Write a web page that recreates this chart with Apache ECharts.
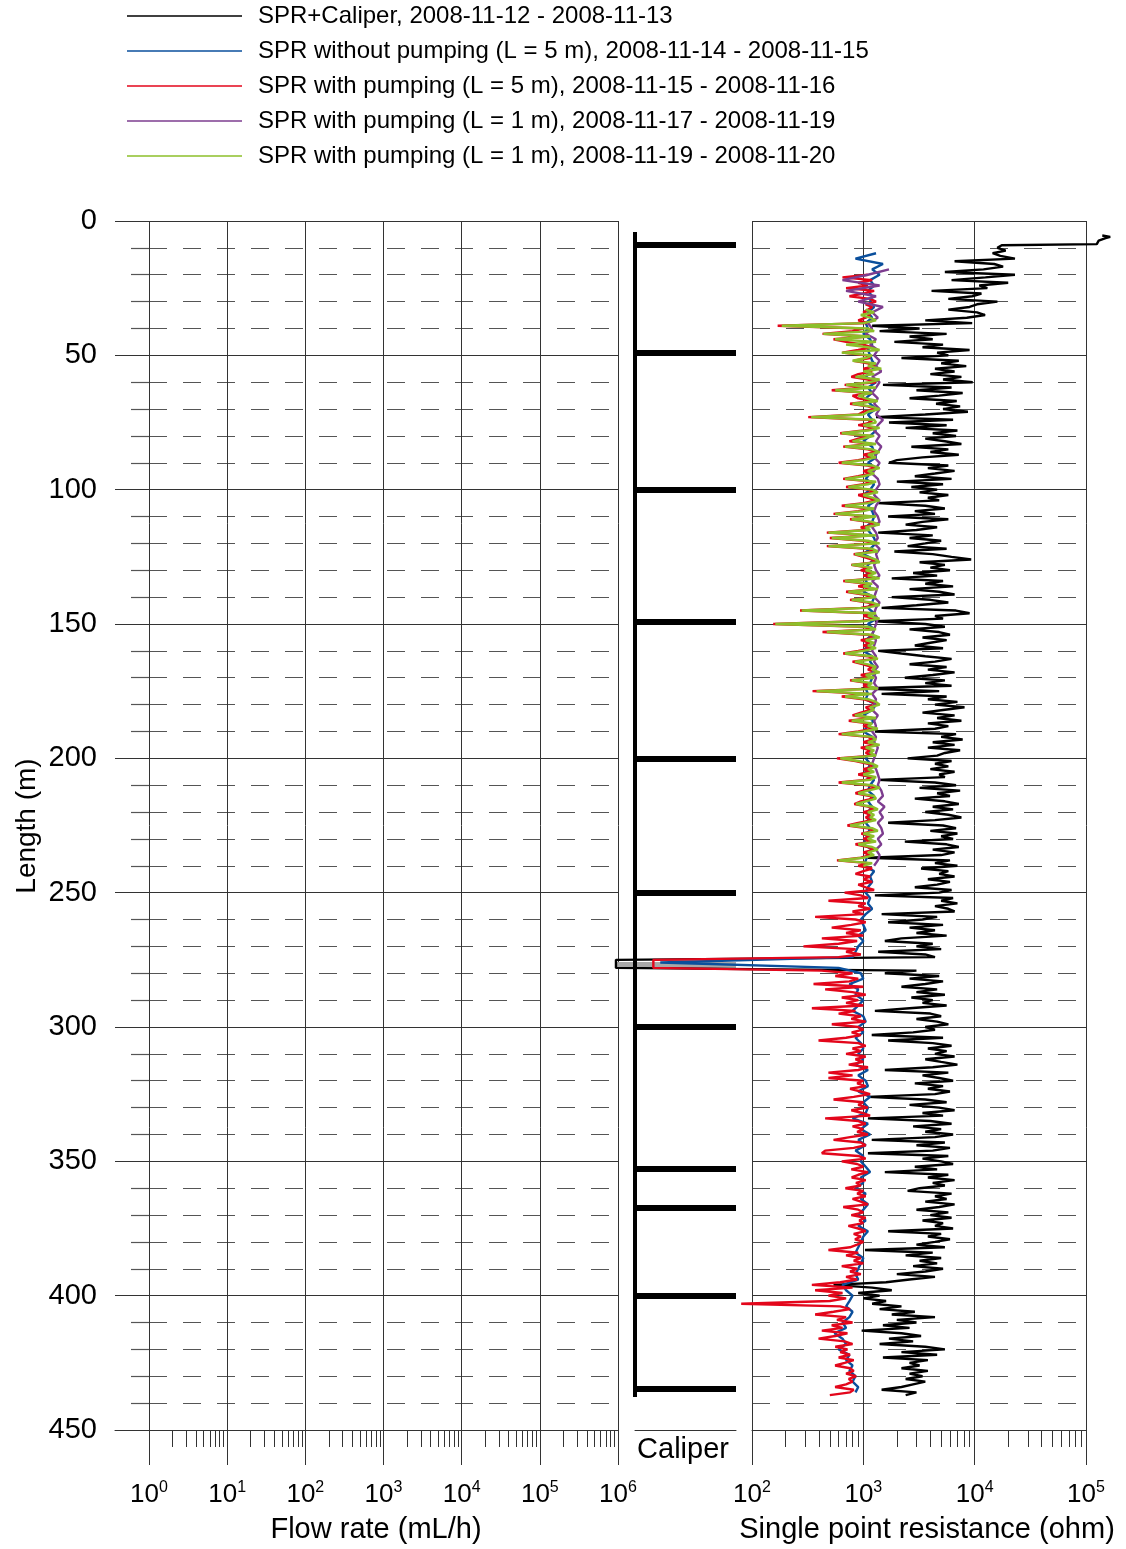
<!DOCTYPE html>
<html><head><meta charset="utf-8">
<script src="https://cdn.jsdelivr.net/npm/echarts@6/dist/echarts.min.js"></script>
<style>html,body{margin:0;padding:0;background:#fff}#c{width:1126px;height:1549px}</style>
</head><body><div id="c"></div>
<script>
const FONT = "'Liberation Sans', Arial, sans-serif";

// ---------- legend / series names ----------
const SERIES_NAMES = [
  'SPR+Caliper, 2008-11-12 - 2008-11-13',
  'SPR without pumping (L = 5 m), 2008-11-14 - 2008-11-15',
  'SPR with pumping (L = 5 m), 2008-11-15 - 2008-11-16',
  'SPR with pumping (L = 1 m), 2008-11-17 - 2008-11-19',
  'SPR with pumping (L = 1 m), 2008-11-19 - 2008-11-20'
];
const SERIES_COLORS = ['#000000', '#0a4f9c', '#e3061b', '#7d3c8f', '#8dbf2a'];

// ---------- axes (x axes are decades, log10 of the value) ----------
const DEPTH_MIN = 0, DEPTH_MAX = 450, DEPTH_STEP_MAJOR = 50;
const FLOW_EXP_MIN = 0, FLOW_EXP_MAX = 6;     // 10^0 .. 10^6 mL/h
const SPR_EXP_MIN = 2, SPR_EXP_MAX = 5;       // 10^2 .. 10^5 ohm
const SPR_DATA_EXP_MIN = 0.5, SPR_DATA_EXP_MAX = 5.3; // drawing range (values run past the frame)
const MINOR_MULTIPLIERS = [2, 3, 4, 5, 6, 7, 8, 9];

// ---------- SPR profiles (ohm), sampled down the borehole ----------
// black: SPR+Caliper, head points then 1 m samples from 9 m
const BLACK_HEAD_DEPTH = [5.4, 5.9, 6.4, 7.3, 8.6];
const BLACK_HEAD_VALUE = [140000, 165000, 150000, 130000, 125000];
const BLACK_START = 9, BLACK_STEP = 1;
const BLACK = [
17500,16000,19000,14500,17000,23000,6600,15000,18000,12000,
5400,23000,12500,6200,20000,11000,13000,4100,11500,9500,
5800,16000,10500,9000,5800,10500,12400,8500,3600,9500,
1200,3200,1400,5600,2600,4200,1900,5200,3400,9000,
4600,5800,2200,7200,5000,8400,4400,6600,4000,7600,
5200,9600,1500,6200,3000,7800,4800,2600,6900,4500,
7400,5200,8700,3600,1300,6400,1700,5600,2400,7000,
4200,6800,3600,5400,7600,2700,5800,4000,7200,3400,
2000,1700,5800,3800,6600,4400,2900,6200,2000,5200,
2700,4600,3200,5800,3800,4800,1360,3600,5400,2900,
4400,1670,5800,3400,2400,4600,3000,1360,4200,2600,
5000,3600,2500,5600,1900,4200,6200,9300,3200,5400,
4000,6000,2800,4600,1800,5200,3600,6400,2600,4800,
6600,1800,4000,5800,3000,1460,6800,9000,4400,5200,
1270,3600,5400,2600,4800,6000,3400,5600,4000,2900,
5200,1360,2200,3600,6200,4400,2600,5600,3800,6600,
4200,2360,5400,3600,6200,960,4800,1460,5600,3800,
7000,4400,8100,5200,3400,6600,4600,7600,3800,5800,
4400,1270,6800,5000,7800,4200,6600,3800,7400,5400,
4600,2500,6200,4400,5800,4000,6600,4800,5400,1360,
4400,6800,3200,7400,4600,6000,2900,5400,7200,4200,
6400,3600,5800,7600,4400,1670,5200,6800,4000,7000,
5000,6400,2360,5600,7200,4200,6600,5000,1100,6000,
4400,7000,3300,5800,4800,6600,3800,6000,4600,2900,
6200,4800,1270,6400,5000,7000,4400,5800,6600,1460,
4600,3400,1670,5200,2600,4400,3000,5600,2200,1560,
4200,3000,5000,1360,3600,4400,6,6,6,6,
3000,1560,4800,2600,5200,3600,2200,4600,3000,5400,
2700,4200,3400,5600,2600,1270,4000,5000,3000,4600,
5800,3600,4400,2800,1190,5200,1670,4200,6200,3800,
5600,4400,6600,3600,5000,7000,4200,1560,5800,3400,
4800,6400,2900,5200,3800,6000,4400,1100,3600,5600,
2600,4800,6600,3400,5200,1100,4000,6200,2800,5000,
3600,6400,4400,1190,5400,3000,6000,4200,1100,5800,
3400,5000,6400,2900,4600,1560,5800,3800,6600,4200,
5400,3200,2500,6200,4400,5600,3600,6600,4800,3000,
5800,4000,6200,3400,5200,4400,6400,1670,5000,3800,
6000,4400,3000,5400,1035,4200,2400,5000,3200,4600,
2800,5200,3600,2000,4400,2600,1600,540,1200,1800,
900,1400,1000,1600,1200,2200,1400,2900,1800,4400,
2000,3000,1500,2600,966,2200,3300,1700,2800,1400,
3600,5400,2200,4600,1500,3800,2600,3200,2200,3800,
2600,3400,2400,3600,2800,2200,1460,3000,2400
];
// blue: without pumping, 2 m samples from 12 m
const BLUE_START = 12, BLUE_STEP = 2;
const BLUE = [
1300,850,1500,1200,1400,1150,1250,1100,1200,1150,
1250,1100,1200,1050,1100,1000,1150,1200,1100,1150,
1200,1300,1150,1050,1300,1100,1200,1050,1150,1300,
1100,1200,1050,1300,1150,1000,1200,1250,1300,1100,
1300,1150,1050,1250,1150,1000,1300,1100,1200,1250,
1200,1050,1150,1250,1300,1150,1000,1250,1100,1050,
1100,1050,1150,1000,1250,1200,1100,1250,1300,1100,
1250,1200,1050,1100,1000,1200,1150,1250,1300,1200,
1150,1050,1100,1050,1300,1200,1000,1250,1100,1000,
1200,1250,1100,1150,1050,1150,1100,1000,1250,1150,
1100,1250,1100,1200,1100,1150,1050,1150,1100,1050,
1000,1200,1100,1050,1000,1250,1150,1200,1100,1050,
1150,1100,1200,1050,950,1000,1050,900,1000,900,
850,800,15,600,950,1000,750,900,850,1000,
900,800,1000,1050,900,1000,850,950,1000,900,
1000,850,1100,900,1050,1100,900,1150,1000,1100,
1050,800,1100,950,1150,900,1050,850,1000,950,
1050,1150,950,1000,850,1050,950,1100,1000,900,
1050,900,1100,1000,950,900,850,1000,950,900,
850,900,650,700,800,750,700,800,750,650,
700,550,650,700,600,750,700,800,750,850,
800,900,850
];
// red: with pumping L = 5 m, 1 m samples from 20 m
const RED_START = 20, RED_STEP = 1;
const RED = [
1100,650,
1200,900,1100,700,1250,1000,750,1150,1300,1050,
1200,1100,1000,1150,1050,900,1100,170,1000,800,
430,1100,540,700,1000,1200,900,650,1050,1150,
820,1100,1300,1000,1200,900,780,1100,1300,680,
1000,520,1200,800,900,1250,760,1100,1300,1000,
900,320,1100,1200,900,1300,1000,620,1150,900,
750,1200,660,1100,1300,1000,1200,900,600,1100,
1300,1000,1150,900,660,1200,1000,700,1100,1250,
900,1100,1300,1000,640,1150,900,540,1200,760,
1100,1300,950,1050,470,1200,500,1000,1300,470,
1100,1250,820,1000,1200,1300,780,1100,950,1200,
1000,1300,660,1100,900,1250,700,1000,1200,760,
1100,1300,950,270,1200,1000,1300,900,155,1000,
1200,430,1100,1300,950,1150,1000,1200,900,660,
1100,1250,800,1000,1200,1100,1300,950,1150,760,
1100,1000,1250,350,1100,640,1000,1200,1300,1050,
1150,950,800,1200,740,1100,1000,1250,900,600,
1100,1200,1000,1300,950,1150,1050,1200,580,850,
1100,1250,1000,1150,900,1200,1050,600,1100,1300,
1000,850,1150,1200,950,830,1100,1250,1000,1150,
1050,1200,900,720,1100,1250,960,1150,1000,1200,
850,1100,1250,1000,1150,950,580,1100,900,1200,
1000,850,1150,1000,1200,900,1050,1250,680,950,
1100,486,1050,900,1150,800,1000,369,850,1050,
780,520,950,700,1000,424,880,600,290,850,
700,950,600,13,13,13,13,420,800,560,
900,750,357,1000,454,800,1050,640,900,700,
1000,345,850,600,950,780,1050,521,900,1000,
786,950,700,396,900,1050,800,950,700,1050,
850,1000,740,1100,900,486,800,486,1000,880,
1050,760,950,1150,820,540,1000,900,1100,780,
980,1150,454,900,1050,800,1000,880,1100,760,
540,950,1050,820,454,424,900,1050,640,880,
1000,780,1100,900,786,1050,860,950,690,1000,
880,1050,800,950,1100,660,900,1000,780,1050,
920,1000,734,900,1050,820,950,842,1000,880,
760,486,900,700,950,820,1000,640,880,760,
950,700,880,620,345,800,369,650,486,700,
500,80,620,760,540,369,700,580,800,520,
650,424,720,560,396,680,800,560,720,620,
760,600,820,680,558,760,820,700,860,740,
800,700,558,820,760,500
];
// purple: with pumping L = 1 m (first run), 2 m samples from 18 m
const PURPLE_START = 18, PURPLE_STEP = 2;
const PURPLE = [
1700,1100,650,1400,700,1300,900,1500,1200,1350,
1100,1200,1050,1300,1150,1350,1250,1400,1300,1450,
1200,1400,1300,1200,1350,1250,1400,1300,1500,1350,
1250,1400,1300,1450,1350,1250,1400,1300,1200,1350,
1400,1300,1250,1400,1300,1250,1350,1400,1200,1300,
1350,1250,1400,1300,1350,1250,1300,1400,1200,1350,
1300,1250,1400,1300,1250,1350,1300,1250,1200,1300,
1250,1200,1300,1250,1350,1200,1300,1250,1350,1200,
1300,1250,1200,1350,1250,1300,1200,1300,1250,1350,
1300,1250,1200,1300,1350,1400,1350,1450,1500,1350,
1550,1400,1500,1350,1450,1500,1350,1450,1300,1400,
1350,1250
];
// green: with pumping L = 1 m (second run), 1 m samples from 33 m
const GREEN_START = 33, GREEN_STEP = 1;
const GREEN = [
1050,1250,950,1150,1300,1000,185,1100,1250,437,
1150,557,1300,700,1100,1400,640,1200,1050,800,
1300,1100,1450,1000,1250,850,1400,1150,700,1300,
560,1200,900,1050,1350,800,1150,1400,1100,1000,
340,1250,1300,1000,1400,1100,640,1250,1000,800,
1300,685,1200,1400,1100,1300,1000,640,1200,1400,
1100,1250,1000,685,1300,1100,734,1200,1350,1000,
1200,1400,1100,685,1250,1000,560,1300,786,1200,
1400,1050,1150,486,1300,521,1100,1400,486,1200,
1350,842,1100,1300,1400,786,1200,1050,1300,1100,
1400,685,1200,1000,1350,734,1100,1300,786,1200,
1400,1050,280,1300,1100,1400,1000,162,1100,1300,
470,1200,1400,1050,1250,1100,1300,1000,685,1200,
1350,842,1100,1300,1200,1400,1050,1250,786,1200,
1100,1350,380,1200,685,1100,1300,1400,1150,1250,
1050,842,1300,786,1200,1100,1350,1000,640,1200,
1300,1100,1400,1050,1250,1150,1300,620,900,1200,
1350,1100,1250,1000,1300,1150,640,1200,1400,1100,
900,1250,1300,1050,860,1200,1350,1100,1250,1150,
1300,1000,760,1200,1350,1000,1250,1100,1300,900,
1200,1350,1100,1250,1000,597,1200,1000
];

// ---------- caliper ----------
const CALIPER_TOP = 4.1, CALIPER_BOTTOM = 437.7;
const CALIPER_BAR_DEPTHS = [8.7, 49.1, 100, 149.2, 200.2, 250, 299.8, 352.8, 367.3, 400, 434.8];
const CALIPER_ANOMALY_DEPTH = 277;
const CALIPER_ANOMALY_REACH = -0.18;

// ---------- helpers ----------
// log10 transform: the x axes are laid out in decades
function profile(start, step, vals) { return vals.map((v, i) => [Math.log10(v), start + i * step]); }
function minorLogPositions(fromExp, toExp) {
  const out = [];
  for (let e = fromExp; e < toExp; e++) MINOR_MULTIPLIERS.forEach(m => out.push(e + Math.log10(m)));
  return out;
}
const supLabel = {
  formatter: v => '{b|10}{s|' + Math.round(v) + '}',
  rich: {
    b: { fontSize: 26, fontFamily: FONT, color: '#000', lineHeight: 30 },
    s: { fontSize: 16, fontFamily: FONT, color: '#000', lineHeight: 16, verticalAlign: 'top' }
  },
  margin: 50
};
const GRID_COLOR = '#333';
const DASH_COLOR = '#555';
const LINE_W = 2.4;

// panel geometry
const PLOT_TOP = 221, PLOT_H = 1209;
const SPR_LEFT = 752, SPR_W = 334;
const SPR_DECADE_PX = SPR_W / (SPR_EXP_MAX - SPR_EXP_MIN);
const SPR_DATA_LEFT = SPR_LEFT - (SPR_EXP_MIN - SPR_DATA_EXP_MIN) * SPR_DECADE_PX;
const SPR_DATA_W = (SPR_DATA_EXP_MAX - SPR_DATA_EXP_MIN) * SPR_DECADE_PX;

function depthAxis(gridIndex, opts) {
  return Object.assign({
    type: 'value', gridIndex, min: DEPTH_MIN, max: DEPTH_MAX, interval: DEPTH_STEP_MAJOR, inverse: true,
    axisLine: { show: false }, axisTick: { show: false }, axisLabel: { show: false },
    splitLine: { show: true, lineStyle: { color: GRID_COLOR, width: 1 } },
    minorTick: { show: false, splitNumber: 5 },
    minorSplitLine: { show: true, lineStyle: { color: DASH_COLOR, width: 1.2, type: [18, 16], dashOffset: 0 } }
  }, opts || {});
}
const HIDDEN_DEPTH = { show: false, splitLine: { show: false }, minorSplitLine: { show: false } };
function majorDecadeAxis(gridIndex, min, max) {
  return { type: 'value', gridIndex, min, max, interval: 1, position: 'bottom',
    axisLine: { show: true, onZero: false, lineStyle: { color: GRID_COLOR } },
    axisTick: { show: true, inside: false, length: 35, lineStyle: { color: GRID_COLOR } },
    axisLabel: supLabel, splitLine: { show: true, lineStyle: { color: GRID_COLOR } } };
}
function minorDecadeAxis(gridIndex, min, max) {
  return { type: 'value', gridIndex, min, max, position: 'bottom',
    axisLine: { show: false, onZero: false }, axisLabel: { show: false }, splitLine: { show: false },
    axisTick: { show: true, inside: false, length: 17, customValues: minorLogPositions(min, max),
      lineStyle: { color: GRID_COLOR } } };
}
function gridBox(left, width) {
  return { left, top: PLOT_TOP, width, height: PLOT_H, containLabel: false, outerBoundsMode: 'none' };
}

const chart = echarts.init(document.getElementById('c'), null, { renderer: 'canvas' });

const sprData = [
  BLACK_HEAD_DEPTH.map((d, i) => [Math.log10(BLACK_HEAD_VALUE[i]), d]).concat(profile(BLACK_START, BLACK_STEP, BLACK)),
  profile(BLUE_START, BLUE_STEP, BLUE),
  profile(RED_START, RED_STEP, RED),
  profile(PURPLE_START, PURPLE_STEP, PURPLE),
  profile(GREEN_START, GREEN_STEP, GREEN)
];

const series = SERIES_NAMES.map((name, i) => ({
  name, type: 'line', xAxisIndex: 6, yAxisIndex: 6, data: sprData[i],
  symbol: 'none', showSymbol: false, clip: false, z: 3 + i,
  color: SERIES_COLORS[i],
  lineStyle: { color: SERIES_COLORS[i], width: LINE_W, join: 'bevel' }
}));

series.push({
  type: 'lines', coordinateSystem: 'cartesian2d', xAxisIndex: 3, yAxisIndex: 2, z: 2, silent: true,
  data: [{ coords: [[0, CALIPER_TOP], [0, CALIPER_BOTTOM]] }],
  lineStyle: { color: '#000', width: 4, opacity: 1 }
});
series.push({
  type: 'lines', coordinateSystem: 'cartesian2d', xAxisIndex: 3, yAxisIndex: 2, z: 2, silent: true,
  data: CALIPER_BAR_DEPTHS.map(d => ({ coords: [[0, d], [1, d]] })),
  lineStyle: { color: '#000', width: 6, opacity: 1 }
});
series.push({
  type: 'lines', coordinateSystem: 'cartesian2d', xAxisIndex: 3, yAxisIndex: 2, z: 1, silent: true, clip: false,
  data: [{ coords: [[CALIPER_ANOMALY_REACH, CALIPER_ANOMALY_DEPTH], [1, CALIPER_ANOMALY_DEPTH]] }],
  lineStyle: { color: '#a8a8a8', width: 6, opacity: 1 }
});

const option = {
  animation: false,
  backgroundColor: '#fff',
  textStyle: { fontFamily: FONT },
  legend: {
    data: SERIES_NAMES, orient: 'vertical', left: 127, top: 4, padding: 0,
    itemWidth: 115, itemHeight: 1.5, icon: 'rect', itemGap: 11, selectedMode: false,
    textStyle: { fontSize: 24, fontFamily: FONT, color: '#000', lineHeight: 24, padding: [0, 0, 0, 11] }
  },
  grid: [
    gridBox(115, 34),                 // 0 flow panel left margin
    gridBox(149, 469),                // 1 flow rate
    gridBox(635, 101),                // 2 caliper
    gridBox(SPR_LEFT, SPR_W),         // 3 SPR frame
    gridBox(149, 469),                // 4 flow minor ticks
    gridBox(SPR_LEFT, SPR_W),         // 5 SPR minor ticks
    gridBox(SPR_DATA_LEFT, SPR_DATA_W) // 6 SPR traces (same scale, wider)
  ],
  xAxis: [
    { type: 'value', gridIndex: 0, min: 0, max: 1, axisLine: { show: true, onZero: false, lineStyle: { color: GRID_COLOR } },
      axisTick: { show: false }, axisLabel: { show: false }, splitLine: { show: false } },
    majorDecadeAxis(1, FLOW_EXP_MIN, FLOW_EXP_MAX),
    minorDecadeAxis(4, FLOW_EXP_MIN, FLOW_EXP_MAX),
    { type: 'value', gridIndex: 2, min: 0, max: 1, axisLine: { show: true, onZero: false, lineStyle: { color: GRID_COLOR } },
      axisTick: { show: false }, axisLabel: { show: false }, splitLine: { show: false } },
    majorDecadeAxis(3, SPR_EXP_MIN, SPR_EXP_MAX),
    minorDecadeAxis(5, SPR_EXP_MIN, SPR_EXP_MAX),
    { type: 'value', gridIndex: 6, min: SPR_DATA_EXP_MIN, max: SPR_DATA_EXP_MAX, show: false }
  ],
  yAxis: [
    depthAxis(0, {
      axisLabel: { show: true, fontSize: 29, fontFamily: FONT, color: '#000', margin: 18 },
      minorSplitLine: { show: true, lineStyle: { color: DASH_COLOR, width: 1.2, type: [18, 16], dashOffset: 18 } }
    }),
    depthAxis(1),
    depthAxis(2, HIDDEN_DEPTH),
    depthAxis(3),
    depthAxis(4, HIDDEN_DEPTH),
    depthAxis(5, HIDDEN_DEPTH),
    depthAxis(6, HIDDEN_DEPTH)
  ],
  graphic: [
    { type: 'text', x: 27, y: 826, rotation: Math.PI / 2,
      style: { text: 'Length (m)', font: '28px ' + FONT, fill: '#000', textAlign: 'center', textVerticalAlign: 'middle' } },
    { type: 'text', x: 376, y: 1530,
      style: { text: 'Flow rate (mL/h)', font: '29px ' + FONT, fill: '#000', textAlign: 'center', textVerticalAlign: 'middle' } },
    { type: 'text', x: 683, y: 1450,
      style: { text: 'Caliper', font: '29px ' + FONT, fill: '#000', textAlign: 'center', textVerticalAlign: 'middle' } },
    { type: 'text', x: 927, y: 1530,
      style: { text: 'Single point resistance (ohm)', font: '29px ' + FONT, fill: '#000', textAlign: 'center', textVerticalAlign: 'middle' } }
  ],
  series
};
chart.setOption(option);
</script>
</body></html>
